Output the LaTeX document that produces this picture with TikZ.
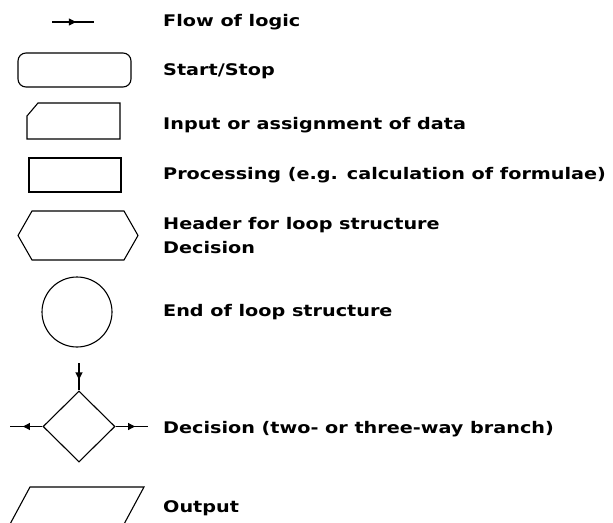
\documentclass[tikz,border=0pt]{standalone}
\usepackage{fontspec}
\setmainfont[FakeStretch=1.2]{DejaVu Sans}
\usetikzlibrary{shapes.misc, shapes.geometric, arrows.meta, positioning, calc, decorations.markings}
\tikzset{
  symbol/.style={draw=black,line width=1.1pt,inner sep=0pt},
  startstop/.style={symbol,rectangle,rounded corners=8pt,minimum width=113pt,minimum height=34pt},
  procbox/.style={symbol,rectangle,minimum width=92pt,minimum height=34pt},
  loopend/.style={symbol,circle,minimum size=70pt},
  branch/.style={symbol,diamond,minimum width=72pt,minimum height=71pt},
  legend/.style={anchor=base west,inner sep=0pt,align=left,font=\fontsize{16}{24}\selectfont\bfseries},
  flow/.style={line width=1.1pt,decoration={markings,
    mark=at position #1 with {\arrow{Triangle[length=7pt,width=7pt]}}},postaction={decorate}},
  flow/.default=0.6,
}
\begin{document}
\begin{tikzpicture}[x=1pt,y=-1pt]
	\useasboundingbox (0,0) rectangle (613,522);
	% symbols
	\coordinate (fa) at (52,22);
	\coordinate (fb) at (94,22);
	\draw[flow=0.57] (fa) -- (fb);
	\node[startstop] (ss) at (74.5,70) {};
	\draw[symbol] (38,103) -- (120,103) -- (120,139) -- (27,139) -- (27,116) -- cycle;
	\node[procbox] (proc) at (75,175) {};
	\draw[symbol] (32,211) -- (124,211) -- (138,235.5) -- (124,260) -- (32,260) -- (18,235.5) -- cycle;
	\node[loopend] (lend) at (77,312) {};
	\node[branch] (dec) at (79,426.5) {};
	\coordinate (din) at (79,363);
	\coordinate (dleft) at (10,426.5);
	\coordinate (dright) at (148,426.5);
	\draw[flow] (din) -- (dec.north);
	\draw[flow] (dec.west) -- (dleft);
	\draw[flow] (dec.east) -- (dright);
	\draw[symbol] (30,487) -- (144,487) -- (123,526) -- (9,526) -- cycle;
	% descriptions
	\node[legend] (t1) at (163,27) {Flow of logic};
	\node[legend] (t2) at (163,75) {Start/Stop};
	\node[legend] (t3) at (163,129) {Input or assignment of data};
	\node[legend] (t4) at (163,179) {Processing (e.g. calculation of formulae)};
	\node[legend] (t5) at (163,253) {Header for loop structure\\Decision};
	\node[legend] (t6) at (163,316) {End of loop structure};
	\node[legend] (t7) at (163,433) {Decision (two- or three-way branch)};
	\node[legend] (t8) at (163,512) {Output};
\end{tikzpicture}
\end{document}
